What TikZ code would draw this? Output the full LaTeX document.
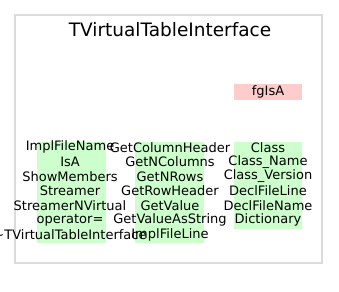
\documentclass[tikz,border=0pt]{standalone}
\usepackage{fontspec}
\setmainfont{DejaVu Sans}
\begin{document}
\begin{tikzpicture}[x=1pt,y=-1pt,
  frame/.style={draw=black!14,line width=1.4pt,fill=white},
  greenbox/.style={fill=green!20,draw=none,inner sep=0pt},
  pinkbox/.style={fill=red!20,draw=none,inner sep=0pt},
  entry/.style={inner sep=0pt,font=\fontsize{13}{15}\selectfont},
  heading/.style={inner sep=0pt,font=\fontsize{18.5}{22}\selectfont}]
\useasboundingbox (0,0) rectangle (339,291);
% class frame and title
\draw[frame] (15,15) rectangle (322,263);
\node[heading] (title) at (170,30) {TVirtualTableInterface};
% member highlight boxes
\node[pinkbox,minimum width=68pt,minimum height=16pt] (fgbox) at (268,92) {};
\node[greenbox,minimum width=69pt,minimum height=101pt] (g1) at (71,192.5) {};
\node[greenbox,minimum width=69pt,minimum height=101pt] (g2) at (169.5,192.5) {};
\node[greenbox,minimum width=68pt,minimum height=87pt] (g3) at (268,185.5) {};
\node[entry] (fg) at (268,92) {fgIsA};
% first column
\node[entry] (a1) at (70,147.3) {ImplFileName};
\node[entry] (a2) at (70,161.9) {IsA};
\node[entry] (a3) at (70,176.5) {ShowMembers};
\node[entry] (a4) at (70,191.1) {Streamer};
\node[entry] (a5) at (70,205.7) {StreamerNVirtual};
\node[entry] (a6) at (70,220.3) {operator=};
\node[entry] (a7) at (70,234.9) {\char"007ETVirtualTableInterface};
% second column
\node[entry] (b1) at (170,147.3) {GetColumnHeader};
\node[entry] (b2) at (170,161.9) {GetNColumns};
\node[entry] (b3) at (170,176.5) {GetNRows};
\node[entry] (b4) at (170,191.1) {GetRowHeader};
\node[entry] (b5) at (170,205.7) {GetValue};
\node[entry] (b6) at (170,220.3) {GetValueAsString};
\node[entry] (b7) at (170,234.9) {ImplFileLine};
% third column
\node[entry] (c1) at (268,147.3) {Class};
\node[entry] (c2) at (268,161.9) {Class\_Name};
\node[entry] (c3) at (268,176.5) {Class\_Version};
\node[entry] (c4) at (268,191.1) {DeclFileLine};
\node[entry] (c5) at (268,205.7) {DeclFileName};
\node[entry] (c6) at (268,220.3) {Dictionary};
\end{tikzpicture}
\end{document}
